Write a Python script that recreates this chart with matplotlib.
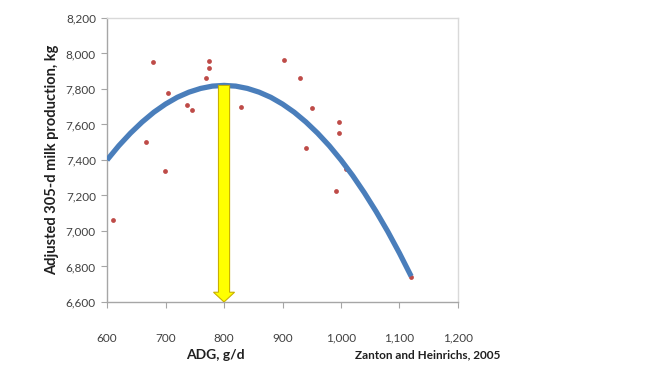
import matplotlib.pyplot as plt
from matplotlib.patches import FancyArrow
from matplotlib.ticker import FuncFormatter

# --- Data ---
ADG = [610, 666, 679, 699, 704, 736, 745, 769, 774, 775, 797, 829,
       902, 930, 940, 950, 992, 996, 997, 1008, 1120]
MILK = [7060, 7500, 7950, 7340, 7780, 7710, 7680, 7860, 7920, 7960, 7600, 7700,
        7965, 7860, 7470, 7690, 7225, 7615, 7550, 7350, 6740]

# fitted trend line, sampled along the drawn curve
CURVE_X = [600, 620, 640, 660, 680, 700, 720, 740, 760, 780, 800, 820, 840,
           860, 880, 900, 920, 940, 960, 980, 1000, 1020, 1040, 1060, 1080,
           1100, 1120]
CURVE_Y = [7400, 7480, 7551, 7614, 7669, 7715, 7753, 7782, 7803, 7816, 7820,
           7816, 7803, 7782, 7753, 7715, 7669, 7614, 7551, 7480, 7400, 7312,
           7215, 7110, 6997, 6875, 6745]

ARROW_X = 800
ARROW_TOP = 7820
ARROW_BOTTOM = 6600

plt.rcParams['font.family'] = ['Lato', 'DejaVu Sans']

fig = plt.figure(figsize=(6.45, 3.74), dpi=100)
ax = fig.add_axes([0.166, 0.1925, 0.544, 0.7595])

ax.plot(CURVE_X, CURVE_Y, color='#4a7ebb', linewidth=3.8, solid_capstyle='butt',
        solid_joinstyle='round', zorder=3)
ax.scatter(ADG, MILK, s=12, color='#be4b48', zorder=2, linewidths=0)

# yellow arrow down to the x axis
arrow = FancyArrow(ARROW_X, ARROW_TOP, 0, ARROW_BOTTOM - ARROW_TOP,
                   width=19, head_width=36, head_length=55,
                   length_includes_head=True, facecolor='#ffff00',
                   edgecolor='#c9b000', linewidth=0.8, zorder=4)
ax.add_patch(arrow)

ax.set_xlim(600, 1200)
ax.set_ylim(6600, 8200)
ax.set_xticks(range(600, 1201, 100))
ax.set_yticks(range(6600, 8201, 200))
ax.xaxis.set_major_formatter(FuncFormatter(lambda v, p: f"{int(v):,}"))
ax.yaxis.set_major_formatter(FuncFormatter(lambda v, p: f"{int(v):,}"))

for side in ['left', 'bottom']:
    ax.spines[side].set_color('#a6a6a6')
    ax.spines[side].set_linewidth(1.0)
for side in ['top', 'right']:
    ax.spines[side].set_color('#d9d9d9')
    ax.spines[side].set_linewidth(1.0)

ax.tick_params(axis='x', direction='out', length=4, color='#a6a6a6',
               labelsize=8.5, labelcolor='#404040', pad=18)
ax.tick_params(axis='y', direction='out', length=4, color='#a6a6a6',
               labelsize=8.5, labelcolor='#404040', pad=4)

ax.set_ylabel('Adjusted 305-d milk production, kg', fontsize=10.5,
              fontweight='bold', color='#202020', labelpad=5)

fig.text(215 / 645, 1 - 355 / 374, 'ADG, g/d', fontsize=10, fontweight='bold',
         color='#202020', ha='center', va='center')
fig.text(428 / 645, 1 - 355 / 374, 'Zanton and Heinrichs, 2005', fontsize=8.5,
         fontweight='bold', color='#202020', ha='center', va='center')

fig.savefig('out.png', dpi=100)
